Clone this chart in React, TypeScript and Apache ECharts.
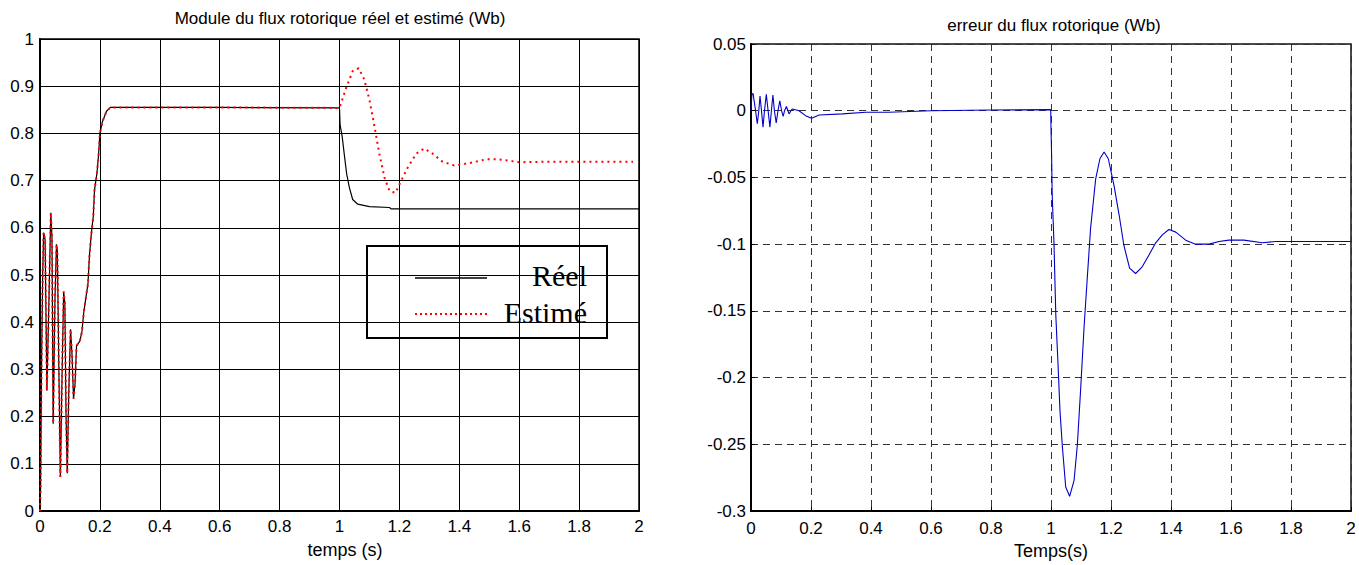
import React, { useEffect, useRef } from "react";
import * as echarts from "echarts";

// ---- Left plot: rotor flux modulus (Wb) ----
const startupTime = [0, 0.002, 0.005, 0.009, 0.012, 0.017, 0.023, 0.03, 0.036, 0.04, 0.044, 0.05, 0.055, 0.058, 0.063, 0.068, 0.074, 0.079, 0.083, 0.087, 0.091, 0.096, 0.102, 0.107, 0.112, 0.117, 0.122, 0.133, 0.14, 0.146, 0.155, 0.16, 0.165, 0.171, 0.178, 0.182, 0.19, 0.195, 0.2, 0.208, 0.222, 0.235];
const startupFlux = [0, 0.05, 0.3, 0.5, 0.59, 0.575, 0.255, 0.45, 0.632, 0.58, 0.185, 0.45, 0.565, 0.55, 0.3, 0.072, 0.3, 0.465, 0.44, 0.2, 0.08, 0.25, 0.385, 0.33, 0.238, 0.27, 0.35, 0.36, 0.38, 0.42, 0.46, 0.48, 0.54, 0.585, 0.625, 0.68, 0.715, 0.75, 0.8, 0.824, 0.847, 0.855];

const realTime = [0.6, 1.0, 1.002, 1.009, 1.017, 1.024, 1.033, 1.044, 1.061, 1.1, 1.167, 1.172, 2.0];
const realFlux = [0.855, 0.854, 0.818, 0.793, 0.75, 0.714, 0.685, 0.66, 0.65, 0.645, 0.643, 0.64, 0.64];

const estTime = [0.6, 1.0, 1.022, 1.044, 1.064, 1.083, 1.1, 1.117, 1.133, 1.15, 1.167, 1.187, 1.206, 1.228, 1.256, 1.283, 1.311, 1.344, 1.383, 1.433, 1.489, 1.533, 1.6, 1.7, 1.98];
const estFlux = [0.855, 0.854, 0.896, 0.932, 0.938, 0.914, 0.871, 0.814, 0.757, 0.707, 0.678, 0.674, 0.7, 0.728, 0.757, 0.768, 0.757, 0.74, 0.732, 0.737, 0.745, 0.745, 0.739, 0.74, 0.74];

// ---- Right plot: rotor flux error (Wb) ----
const errTime = [0, 0.003, 0.007, 0.014, 0.021, 0.026, 0.03, 0.035, 0.04, 0.045, 0.051, 0.057, 0.063, 0.068, 0.073, 0.078, 0.084, 0.09, 0.096, 0.102, 0.107, 0.112, 0.118, 0.123, 0.127, 0.133, 0.138, 0.16, 0.182, 0.202, 0.227, 0.305, 0.383, 0.46, 0.6, 0.8, 0.999, 1.0, 1.002, 1.004, 1.01, 1.016, 1.023, 1.03, 1.038, 1.049, 1.062, 1.077, 1.088, 1.099, 1.11, 1.121, 1.132, 1.149, 1.163, 1.177, 1.191, 1.21, 1.227, 1.243, 1.262, 1.282, 1.304, 1.327, 1.349, 1.371, 1.393, 1.416, 1.449, 1.482, 1.527, 1.56, 1.593, 1.643, 1.704, 1.749, 2.0];
const errValue = [0, 0.0125, 0.0128, 0.002, -0.0098, 0, 0.011, 0, -0.0123, 0, 0.0123, 0, -0.0123, 0, 0.0118, 0, -0.0091, 0, 0.0074, 0, -0.0042, 0, 0.0032, 0, -0.0024, 0, 0.0013, 0, -0.0037, -0.0056, -0.0032, -0.0024, -0.0012, -0.0012, 0, 0.0005, 0.0008, -0.013, -0.033, -0.063, -0.1, -0.153, -0.188, -0.225, -0.252, -0.282, -0.289, -0.277, -0.25, -0.208, -0.163, -0.125, -0.088, -0.051, -0.036, -0.031, -0.036, -0.056, -0.078, -0.101, -0.118, -0.122, -0.117, -0.108, -0.099, -0.093, -0.089, -0.091, -0.097, -0.1, -0.1, -0.098, -0.097, -0.097, -0.099, -0.098, -0.098];

const xTicksLeft = { min: 0, max: 2, interval: 0.2 };
const yTicksLeft = { min: 0, max: 1, interval: 0.1 };
const yTicksRight = { min: -0.3, max: 0.05, interval: 0.05 };

const leftTitle = "Module du flux rotorique réel et estimé (Wb)";
const rightTitle = "erreur du flux rotorique (Wb)";
const leftXName = "temps (s)";
const rightXName = "Temps(s)";
const legendNames = ["Réel", "Estimé"];

const zip = (t: number[], v: number[]) => t.map((x, i) => [x, v[i]]);

const SANS = "'Liberation Sans', Arial, sans-serif";
const SERIF = "'Liberation Serif', 'Times New Roman', serif";

const fmt = (v: number) => {
  const r = Math.round(v * 100) / 100;
  return r === 0 ? "0" : String(r);
};

export default function App() {
  const ref = useRef<HTMLDivElement>(null);
  useEffect(() => {
    if (!ref.current) return;
    const chart = echarts.init(ref.current, null, { renderer: "svg" });
    const labelStyle = { color: "#000", fontSize: 17, fontFamily: SANS };
    const realData = zip(startupTime, startupFlux).concat(zip(realTime, realFlux));
    const estData = zip(startupTime, startupFlux).concat(zip(estTime, estFlux));
    chart.setOption({
      animation: false,
      backgroundColor: "#fff",
      grid: [
        { left: 40, top: 39, width: 599, height: 472, show: true, borderColor: "#000", borderWidth: 1.5, backgroundColor: "transparent" },
        { left: 751, top: 44, width: 600, height: 469, show: true, borderColor: "#111", borderWidth: 1.5, backgroundColor: "transparent" },
      ],
      xAxis: [
        {
          type: "value", gridIndex: 0, ...xTicksLeft,
          axisLine: { show: true, onZero: false, lineStyle: { color: "#000", width: 2 } },
          axisTick: { show: false },
          axisLabel: { ...labelStyle, margin: 7, formatter: fmt },
          splitLine: { show: true, lineStyle: { color: "#000", width: 1 } },
          name: leftXName, nameLocation: "middle", nameGap: 30,
          nameTextStyle: { color: "#000", fontSize: 18, fontFamily: SANS, padding: [0, 0, 0, 11] },
        },
        {
          type: "value", gridIndex: 1, ...xTicksLeft,
          axisLine: { show: true, onZero: false, lineStyle: { color: "#000", width: 2 } },
          axisTick: { show: true, inside: true, length: 4, lineStyle: { color: "#000" } },
          axisLabel: { ...labelStyle, margin: 9, formatter: fmt },
          splitLine: { show: true, lineStyle: { color: "#333", width: 1, type: [7, 5] } },
          name: rightXName, nameLocation: "middle", nameGap: 31,
          nameTextStyle: { color: "#000", fontSize: 18, fontFamily: SANS },
        },
      ],
      yAxis: [
        {
          type: "value", gridIndex: 0, ...yTicksLeft,
          axisLine: { show: true, onZero: false, lineStyle: { color: "#000", width: 2 } },
          axisTick: { show: false },
          axisLabel: { ...labelStyle, margin: 6, formatter: fmt },
          splitLine: { show: true, lineStyle: { color: "#000", width: 1 } },
        },
        {
          type: "value", gridIndex: 1, ...yTicksRight,
          axisLine: { show: true, onZero: false, lineStyle: { color: "#000", width: 2 } },
          axisTick: { show: true, inside: true, length: 4, lineStyle: { color: "#000" } },
          axisLabel: { ...labelStyle, margin: 5, formatter: fmt },
          splitLine: { show: true, lineStyle: { color: "#333", width: 1, type: [7, 5] } },
        },
      ],
      series: [
        {
          name: legendNames[0], type: "line", xAxisIndex: 0, yAxisIndex: 0,
          data: realData, showSymbol: false, symbol: "none",
          lineStyle: { color: "#000", width: 1.2 }, z: 3,
        },
        {
          name: legendNames[1], type: "line", xAxisIndex: 0, yAxisIndex: 0,
          data: estData, showSymbol: false, symbol: "none",
          lineStyle: { color: "#ff0000", width: 2, type: [2, 4] }, z: 4,
        },
        {
          name: "erreur", type: "line", xAxisIndex: 1, yAxisIndex: 1,
          data: zip(errTime, errValue), showSymbol: false, symbol: "none",
          lineStyle: { color: "#0000c8", width: 1.1 }, z: 3,
        },
      ],
      graphic: [
        { type: "text", x: 340, y: 18, style: { text: leftTitle, font: `17px ${SANS}`, fill: "#000", textAlign: "center", textVerticalAlign: "middle" } },
        { type: "text", x: 1054, y: 25, style: { text: rightTitle, font: `17px ${SANS}`, fill: "#000", textAlign: "center", textVerticalAlign: "middle" } },
        {
          type: "group", z: 100,
          children: [
            { type: "rect", shape: { x: 367, y: 246, width: 240, height: 92 }, style: { fill: "#fff", stroke: "#000", lineWidth: 2 } },
            { type: "line", shape: { x1: 415, y1: 278, x2: 487, y2: 278 }, style: { stroke: "#000", lineWidth: 1.5 } },
            { type: "line", shape: { x1: 415, y1: 314, x2: 487, y2: 314 }, style: { stroke: "#ff0000", lineWidth: 2, lineDash: [2, 3] } },
            { type: "text", x: 587, y: 275, style: { text: legendNames[0], font: `30px ${SERIF}`, fill: "#000", textAlign: "right", textVerticalAlign: "middle" } },
            { type: "text", x: 587, y: 312, style: { text: legendNames[1], font: `30px ${SERIF}`, fill: "#000", textAlign: "right", textVerticalAlign: "middle" } },
          ],
        },
      ],
    });
    return () => chart.dispose();
  }, []);
  return <div ref={ref} style={{ position: "absolute", left: 0, top: 0, width: 1359, height: 565, background: "#fff" }} />;
}
